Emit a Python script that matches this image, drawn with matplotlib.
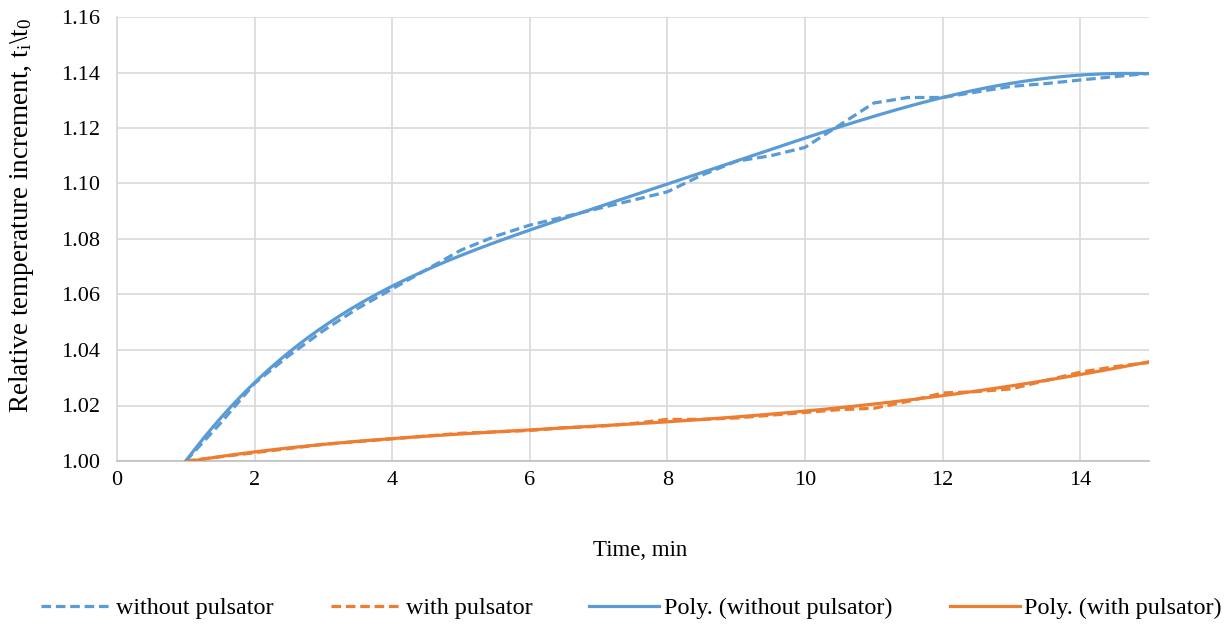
import numpy as np
import matplotlib
matplotlib.use("Agg")
import matplotlib.pyplot as plt

# ---- data ----
time_min = [1.0, 1.5, 2.0, 2.5, 3.0, 3.5, 4.0, 4.5, 5.0, 5.5, 6.0, 6.5, 7.0, 7.5,
            8.0, 8.5, 9.0, 9.5, 10.0, 10.5, 11.0, 11.5, 12.0, 12.5, 13.0, 13.5,
            14.0, 14.5, 15.0]
without_pulsator = [1.000, 1.0135, 1.028, 1.038, 1.047, 1.055, 1.062, 1.069, 1.076,
                    1.081, 1.085, 1.088, 1.091, 1.094, 1.097, 1.103, 1.108, 1.110,
                    1.113, 1.121, 1.129, 1.131, 1.131, 1.133, 1.135, 1.136, 1.1373,
                    1.1385, 1.1397]
with_pulsator = [1.000, 1.0015, 1.003, 1.0045, 1.006, 1.007, 1.008, 1.009, 1.010,
                 1.0105, 1.011, 1.012, 1.0125, 1.0135, 1.015, 1.015, 1.0155, 1.0165,
                 1.0175, 1.0185, 1.019, 1.0215, 1.0245, 1.025, 1.026, 1.029, 1.032,
                 1.034, 1.0355]

# polynomial trend lines
trend_time = [1, 1.5, 2, 3, 4, 5, 6, 7, 8, 9, 10, 11, 12, 13, 14, 15]
trend_without = [1.000, 1.015, 1.0288, 1.048, 1.063, 1.0745, 1.083, 1.0915, 1.0997,
                 1.1085, 1.116, 1.1243, 1.131, 1.1362, 1.1390, 1.1396]
trend_with = [1.000, 1.0015, 1.003, 1.0057, 1.0082, 1.0099, 1.0114, 1.0127, 1.0142,
              1.0158, 1.0178, 1.0202, 1.0234, 1.0274, 1.0316, 1.0354]

x_ticks = [0, 2, 4, 6, 8, 10, 12, 14]
y_ticks = [1.00, 1.02, 1.04, 1.06, 1.08, 1.10, 1.12, 1.14, 1.16]

BLUE = "#5B9BD5"
ORANGE = "#ED7D31"

plt.rcParams['font.family'] = ['Liberation Serif', 'DejaVu Serif']
plt.rcParams['mathtext.fontset'] = 'custom'
plt.rcParams['mathtext.rm'] = 'Liberation Serif'
plt.rcParams['mathtext.it'] = 'Liberation Serif'

W, H = 1231, 628
fig = plt.figure(figsize=(W/100, H/100), dpi=100)
ax = fig.add_axes([117/W, 1 - 461/H, (1149-117)/W, (461-17)/H])

x = np.array(time_min)
yb = np.array(without_pulsator)
yo = np.array(with_pulsator)

tx = np.array(trend_time)
xf = np.linspace(tx.min(), tx.max(), 300)
pb = np.polyfit(tx, trend_without, 6)
po = np.polyfit(tx, trend_with, 4)

lw = 2.3
l1, = ax.plot(x, yb, color=BLUE, lw=lw, dashes=(3.0, 1.5), label="without pulsator",
              dash_capstyle='butt', zorder=3)
l2, = ax.plot(x, yo, color=ORANGE, lw=lw, dashes=(3.0, 1.5), label="with pulsator",
              dash_capstyle='butt', zorder=3)
l3, = ax.plot(xf, np.polyval(pb, xf), color=BLUE, lw=lw, label="Poly. (without pulsator)", zorder=4)
l4, = ax.plot(xf, np.polyval(po, xf), color=ORANGE, lw=lw, label="Poly. (with pulsator)", zorder=4)

ax.set_xlim(0, 15)
ax.set_ylim(1.00, 1.16)
ax.set_xticks(x_ticks)
ax.set_yticks(y_ticks)
ax.set_yticklabels([f"{v:.2f}" for v in y_ticks])
ax.grid(True, color="#D9D9D9", lw=1.2)
ax.set_axisbelow(True)
for s in ['top', 'right']:
    ax.spines[s].set_visible(False)
ax.spines['left'].set_color("#D9D9D9")
ax.spines['left'].set_linewidth(1.2)
ax.spines['bottom'].set_color("#BFBFBF")
ax.spines['bottom'].set_linewidth(1.2)
ax.tick_params(axis='both', length=0, labelsize=16, colors='black')
ax.tick_params(axis='y', pad=12)
ax.tick_params(axis='x', pad=7)

ax.set_xlabel("Time, min", fontsize=16.5, va='center')
ax.xaxis.set_label_coords((640-117)/1032, (461-551)/444)
ax.set_ylabel(r"Relative temperature increment, t$_\mathregular{i}$\t$_\mathregular{0}$",
              fontsize=19.5, va='center')
ax.yaxis.set_label_coords((22-117)/1032, (461-215)/444)

fs_leg = 17.4
px = fs_leg * 100 / 72
fig.legend(handles=[l1, l2, l3, l4], loc='center', bbox_to_anchor=(631.5/W, 1 - 608/H),
           ncol=4, frameon=False, fontsize=fs_leg, handlelength=70/px,
           handletextpad=5/px, columnspacing=57/px, borderpad=0, borderaxespad=0)

fig.savefig("out.png", dpi=100)
